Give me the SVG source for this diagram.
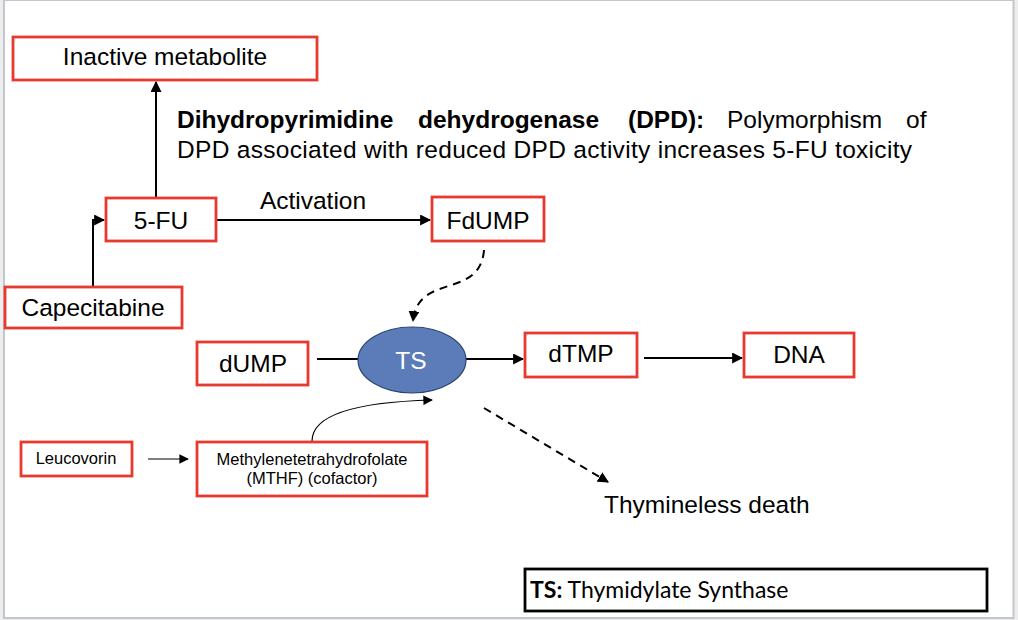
<svg xmlns="http://www.w3.org/2000/svg" width="1018" height="620" viewBox="0 0 1018 620">
<style>
.box{fill:#fff;stroke:#e8392f;stroke-width:2.8}
.t{font-family:"Liberation Sans",Arial,sans-serif;font-size:24.5px;fill:#000}
.s{font-family:"Liberation Sans",Arial,sans-serif;font-size:16.5px;fill:#000}
.c{text-anchor:middle}
.ln{fill:none;stroke:#000;stroke-width:2}
.thin{fill:none;stroke:#000;stroke-width:1.2}
.dash{fill:none;stroke:#000;stroke-width:2;stroke-dasharray:8 6}
</style>
<defs>
<marker id="ah" viewBox="0 0 10 10" refX="9" refY="5" markerWidth="5.5" markerHeight="5.5" orient="auto" markerUnits="strokeWidth"><path d="M0,0 L10,5 L0,10 z" fill="#000"/></marker>
<marker id="ahs" viewBox="0 0 10 10" refX="9" refY="5" markerWidth="8" markerHeight="8" orient="auto" markerUnits="strokeWidth"><path d="M0,0 L10,5 L0,10 z" fill="#000"/></marker>
</defs>
<rect x="0" y="0" width="1018" height="620" fill="#ededed"/>
<rect x="4" y="0" width="1009.5" height="618" fill="#fff" stroke="#c3c6cb" stroke-width="2"/>

<g id="connectors">
<line class="ln" x1="156" y1="198" x2="156" y2="82" marker-end="url(#ah)"/>
<polyline class="ln" points="93,287 93,220 104,220" marker-end="url(#ah)"/>
<line class="ln" x1="216" y1="220" x2="430" y2="220" marker-end="url(#ah)"/>
<text class="t c" x="313" y="209">Activation</text>
<path class="dash" d="M484 250 C480 300,418 272,413 321" marker-end="url(#ah)"/>
<line class="ln" x1="317" y1="359" x2="358" y2="359"/>
<line class="ln" x1="466" y1="359" x2="523" y2="359" marker-end="url(#ah)"/>
<line class="ln" x1="644" y1="358" x2="742" y2="358" marker-end="url(#ah)"/>
<line class="thin" x1="148" y1="459" x2="188" y2="459" marker-end="url(#ahs)"/>
<path class="thin" d="M312 441 C312 414,360 402,432 400" marker-end="url(#ahs)"/>
<line class="dash" x1="484" y1="408" x2="608" y2="482" marker-end="url(#ah)"/>
</g>

<g id="inactive">
<rect class="box" x="13" y="37" width="304" height="43"/>
<text class="t c" x="165" y="65">Inactive metabolite</text>
</g>
<g id="dpd-note">
<text class="t" y="128"><tspan x="177" font-weight="bold">Dihydropyrimidine</tspan><tspan x="418" font-weight="bold">dehydrogenase</tspan><tspan x="628" font-weight="bold">(DPD):</tspan><tspan x="727">Polymorphism</tspan><tspan x="906">of</tspan></text>
<text class="t" x="177" y="158" textLength="735" lengthAdjust="spacing">DPD associated with reduced DPD activity increases 5-FU toxicity</text>
</g>
<g id="fu">
<rect class="box" x="106" y="198" width="110" height="43"/>
<text class="t c" x="161" y="229">5-FU</text>
</g>
<g id="fdump">
<rect class="box" x="432" y="197" width="112" height="44"/>
<text class="t c" x="488" y="229">FdUMP</text>
</g>
<g id="capecitabine">
<rect class="box" x="5" y="287" width="177" height="41"/>
<text class="t c" x="93" y="316">Capecitabine</text>
</g>
<g id="dump">
<rect class="box" x="197" y="342" width="111" height="43"/>
<text class="t c" x="253" y="372">dUMP</text>
</g>
<g id="ts">
<ellipse cx="412" cy="360" rx="54" ry="33" fill="#5b7cb8" stroke="#2c4470" stroke-width="1.2"/>
<text class="t c" x="411" y="369" style="fill:#fff">TS</text>
</g>
<g id="dtmp">
<rect class="box" x="525" y="333" width="112" height="44"/>
<text class="t c" x="581" y="362">dTMP</text>
</g>
<g id="dna">
<rect class="box" x="744" y="333" width="110" height="44"/>
<text class="t c" x="799" y="363">DNA</text>
</g>
<g id="leucovorin">
<rect class="box" x="21" y="442" width="111" height="34"/>
<text class="s c" x="76" y="464">Leucovorin</text>
</g>
<g id="mthf">
<rect class="box" x="197" y="442" width="230" height="54"/>
<text class="s c" x="312" y="465">Methylenetetrahydrofolate</text>
<text class="s c" x="312" y="484">(MTHF) (cofactor)</text>
</g>
<g id="thymineless">
<text class="t" x="604" y="513">Thymineless death</text>
</g>
<g id="legend">
<rect x="525" y="569" width="462" height="42" fill="#fff" stroke="#000" stroke-width="2.8"/>
<text x="530" y="598" font-family="Lato,'Open Sans',sans-serif" font-size="23"><tspan font-weight="bold">TS:</tspan> Thymidylate Synthase</text>
</g>
</svg>
